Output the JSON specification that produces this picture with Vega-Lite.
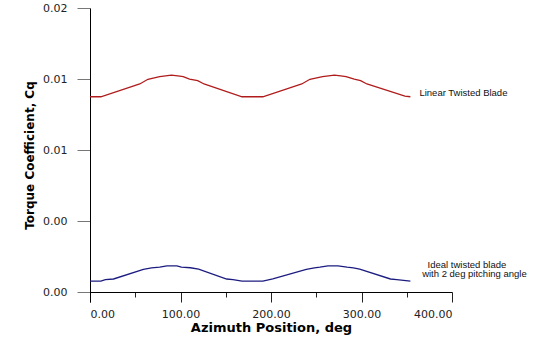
{
  "$schema": "https://vega.github.io/schema/vega-lite/v6.json",
  "width": 362,
  "height": 294,
  "autosize": {"type": "none"},
  "padding": {"left": 90, "top": 8, "right": 81, "bottom": 39},
  "background": "white",
  "config": {"view": {"stroke": null}, "font": "Liberation Sans"},
  "datasets": {
    "curves": [
      {"az": 0, "cq": 0.01375, "s": "Linear"},
      {"az": 12, "cq": 0.01375, "s": "Linear"},
      {"az": 55, "cq": 0.01465, "s": "Linear"},
      {"az": 64, "cq": 0.01498, "s": "Linear"},
      {"az": 77, "cq": 0.01517, "s": "Linear"},
      {"az": 90, "cq": 0.01528, "s": "Linear"},
      {"az": 97, "cq": 0.01522, "s": "Linear"},
      {"az": 103, "cq": 0.01517, "s": "Linear"},
      {"az": 110, "cq": 0.015, "s": "Linear"},
      {"az": 119, "cq": 0.01488, "s": "Linear"},
      {"az": 126, "cq": 0.01465, "s": "Linear"},
      {"az": 168, "cq": 0.01375, "s": "Linear"},
      {"az": 191, "cq": 0.01375, "s": "Linear"},
      {"az": 234, "cq": 0.01465, "s": "Linear"},
      {"az": 243, "cq": 0.01498, "s": "Linear"},
      {"az": 257, "cq": 0.01517, "s": "Linear"},
      {"az": 270, "cq": 0.01528, "s": "Linear"},
      {"az": 277, "cq": 0.01522, "s": "Linear"},
      {"az": 283, "cq": 0.01517, "s": "Linear"},
      {"az": 292, "cq": 0.015, "s": "Linear"},
      {"az": 299, "cq": 0.01488, "s": "Linear"},
      {"az": 306, "cq": 0.01465, "s": "Linear"},
      {"az": 348, "cq": 0.0138, "s": "Linear"},
      {"az": 354, "cq": 0.01375, "s": "Linear"},
      {"az": 0, "cq": 0.00077, "s": "Ideal"},
      {"az": 12, "cq": 0.00077, "s": "Ideal"},
      {"az": 17, "cq": 0.00087, "s": "Ideal"},
      {"az": 26, "cq": 0.00092, "s": "Ideal"},
      {"az": 59, "cq": 0.0016, "s": "Ideal"},
      {"az": 68, "cq": 0.0017, "s": "Ideal"},
      {"az": 77, "cq": 0.00175, "s": "Ideal"},
      {"az": 85, "cq": 0.00185, "s": "Ideal"},
      {"az": 96, "cq": 0.00185, "s": "Ideal"},
      {"az": 101, "cq": 0.00176, "s": "Ideal"},
      {"az": 111, "cq": 0.00171, "s": "Ideal"},
      {"az": 120, "cq": 0.00162, "s": "Ideal"},
      {"az": 151, "cq": 0.00092, "s": "Ideal"},
      {"az": 158, "cq": 0.00087, "s": "Ideal"},
      {"az": 168, "cq": 0.00077, "s": "Ideal"},
      {"az": 191, "cq": 0.00077, "s": "Ideal"},
      {"az": 202, "cq": 0.00092, "s": "Ideal"},
      {"az": 239, "cq": 0.0016, "s": "Ideal"},
      {"az": 248, "cq": 0.0017, "s": "Ideal"},
      {"az": 254, "cq": 0.00175, "s": "Ideal"},
      {"az": 263, "cq": 0.00185, "s": "Ideal"},
      {"az": 274, "cq": 0.00185, "s": "Ideal"},
      {"az": 284, "cq": 0.00176, "s": "Ideal"},
      {"az": 291, "cq": 0.00171, "s": "Ideal"},
      {"az": 298, "cq": 0.00162, "s": "Ideal"},
      {"az": 332, "cq": 0.00092, "s": "Ideal"},
      {"az": 339, "cq": 0.00087, "s": "Ideal"},
      {"az": 354, "cq": 0.00077, "s": "Ideal"}
    ],
    "notes": [
      {"az": 364, "cq": 0.01401, "t": "Linear Twisted Blade"},
      {"az": 373, "cq": 0.00194, "t": "Ideal twisted blade"},
      {"az": 367, "cq": 0.00125, "t": "with 2 deg pitching angle"}
    ]
  },
  "layer": [
    {
      "data": {"name": "curves"},
      "mark": {"type": "line", "strokeWidth": 1.3, "clip": false},
      "encoding": {
        "x": {
          "field": "az", "type": "quantitative",
          "scale": {"domain": [0, 400], "nice": false, "zero": false},
          "axis": {
            "title": "Azimuth Position, deg",
            "titleFont": "DejaVu Sans", "titleFontSize": 13, "titleFontWeight": "bold", "titleColor": "black",
            "titlePadding": 2,
            "values": [0, 50, 100, 150, 200, 250, 300, 350, 400],
            "labelExpr": "datum.value % 100 == 0 ? format(datum.value, '.2f') : ''",
            "labelFont": "DejaVu Sans", "labelFontSize": 11, "labelColor": "#222",
            "labelPadding": 6,
            "offset": -10,
            "grid": false,
            "domainColor": "black", "domainWidth": 1,
            "tickColor": "#222", "tickWidth": 1,
            "tickSize": {"condition": {"test": "datum.value % 100 == 0", "value": 10}, "value": 5}
          }
        },
        "y": {
          "field": "cq", "type": "quantitative",
          "scale": {"domain": [-0.0007, 0.02], "nice": false, "zero": false},
          "axis": {
            "title": "Torque Coefficient, Cq",
            "titleFont": "DejaVu Sans", "titleFontSize": 12, "titleFontWeight": "bold", "titleColor": "black",
            "titlePadding": 6,
            "values": [0, 0.0025, 0.005, 0.0075, 0.01, 0.0125, 0.015, 0.0175, 0.02],
            "labelExpr": "round(datum.value*10000) == 0 ? '0.00' : round(datum.value*10000) == 50 ? '0.00' : round(datum.value*10000) == 100 ? '0.01' : round(datum.value*10000) == 150 ? '0.01' : round(datum.value*10000) == 200 ? '0.02' : ''",
            "labelFont": "DejaVu Sans", "labelFontSize": 11, "labelColor": "#222",
            "labelPadding": 10,
            "grid": false,
            "domainColor": "black", "domainWidth": 1,
            "tickColor": "#777", "tickWidth": 1,
            "tickSize": {"condition": {"test": "round(datum.value*10000) % 50 == 0", "value": 13}, "value": 7}
          }
        },
        "color": {
          "field": "s", "type": "nominal",
          "scale": {"domain": ["Linear", "Ideal"], "range": ["#b01c1c", "#1c1c80"]},
          "legend": null
        },
        "detail": {"field": "s"}
      }
    },
    {
      "data": {"name": "notes"},
      "mark": {"type": "text", "align": "left", "baseline": "middle", "font": "Liberation Sans", "fontSize": 9.5, "color": "#111", "clip": false},
      "encoding": {
        "x": {"field": "az", "type": "quantitative"},
        "y": {"field": "cq", "type": "quantitative"},
        "text": {"field": "t"}
      }
    }
  ]
}
